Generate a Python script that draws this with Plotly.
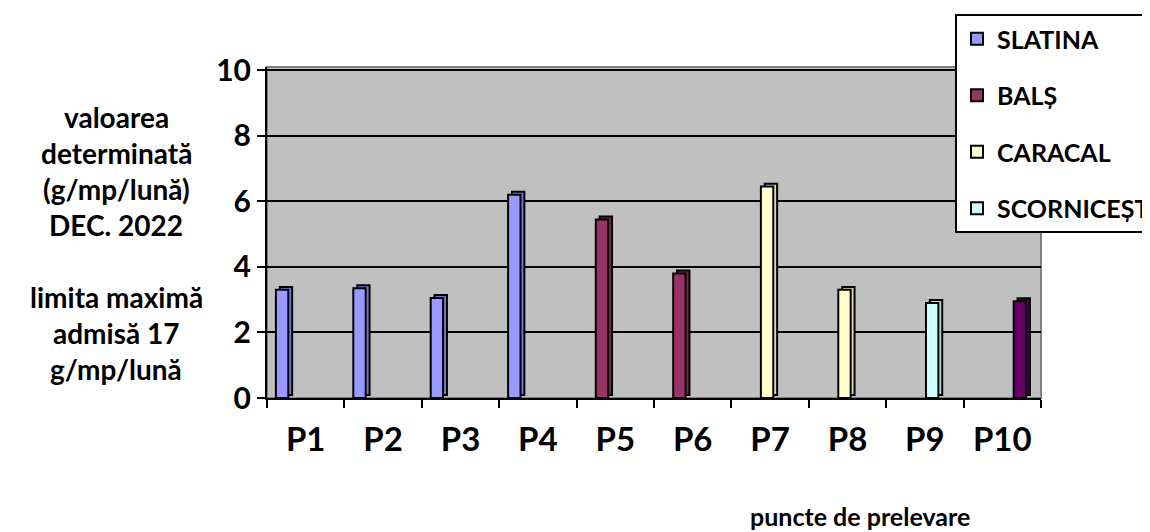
import plotly.graph_objects as go

# ---- data ----
points = ["P1", "P2", "P3", "P4", "P5", "P6", "P7", "P8", "P9", "P10"]
slatina = [3.3, 3.35, 3.05, 6.2, None, None, None, None, None, None]
bals = [None, None, None, None, 5.45, 3.8, None, None, None, None]
caracal = [None, None, None, None, None, None, 6.45, 3.3, None, None]
scornicesti = [None, None, None, None, None, None, None, None, 2.9, None]
serie5 = [None, None, None, None, None, None, None, None, None, 2.95]
y_ticks = [0, 2, 4, 6, 8, 10]

series = [
    ("SLATINA", slatina, "#9999FF", "#7777DD", True),
    ("BALȘ", bals, "#993366", "#7A2850", True),
    ("CARACAL", caracal, "#FFFFCC", "#DDDDAA", True),
    ("SCORNICEȘTI", scornicesti, "#CCFFFF", "#A8DDDD", True),
    ("serie 5", serie5, "#660066", "#4A004A", False),
]

FONT = "Lato"
bar_w = 0.16
slot = 0.133
first_off = -0.385
depth_x = 0.05
depth_y = 0.09

fig = go.Figure()

for i, (name, vals, col, dark, show) in enumerate(series):
    off = first_off + i * slot
    # depth (3D side/top) face behind
    fig.add_trace(go.Bar(
        x=points, y=vals, base=depth_y, offset=off + depth_x, width=bar_w,
        marker=dict(color=dark, line=dict(color="black", width=2)),
        showlegend=False, hoverinfo="skip",
    ))
    fig.add_trace(go.Bar(
        x=points, y=vals, offset=off, width=bar_w, name=name,
        legendgroup=name, showlegend=show,
        marker=dict(color=col, line=dict(color="black", width=2)),
    ))

# y-axis title lines (left text block), positions in page pixels
title_lines = ["valoarea", "determinată", "(g/mp/lună)", "DEC. 2022", "",
               "limita maximă", "admisă 17", "g/mp/lună"]
top_px, step_px = 117, 36
plot_left, plot_w = 267, 774
plot_bottom, plot_h = 398, 331
for k, t in enumerate(title_lines):
    if not t:
        continue
    ypx = top_px + k * step_px
    fig.add_annotation(
        text=t, xref="paper", yref="paper",
        x=(116 - plot_left) / plot_w, y=(plot_bottom - ypx) / plot_h,
        xanchor="center", yanchor="middle", showarrow=False,
        font=dict(family=FONT, size=28, color="black", weight="bold"),
    )

fig.add_annotation(
    text="puncte de prelevare", xref="paper", yref="paper",
    x=(860 - plot_left) / plot_w, y=(plot_bottom - 516) / plot_h,
    xanchor="center", yanchor="middle", showarrow=False,
    font=dict(family=FONT, size=25, color="black", weight="bold"),
)

# plot wall border (gray)
fig.add_shape(type="rect", xref="paper", yref="paper", x0=0, y0=0, x1=1, y1=1,
              line=dict(color="#808080", width=2), layer="below")

fig.update_layout(
    width=1150, height=532,
    barmode="overlay",
    paper_bgcolor="white",
    plot_bgcolor="#C0C0C0",
    margin=dict(l=259, r=117, t=59, b=142, autoexpand=False),
    font=dict(family=FONT, color="black"),
    legend=dict(
        x=(955 - plot_left) / plot_w, y=(plot_bottom - 14) / plot_h,
        xanchor="left", yanchor="top",
        bgcolor="white", bordercolor="black", borderwidth=2,
        font=dict(family=FONT, size=25, color="black", weight="bold"),
        traceorder="grouped", tracegroupgap=21,
    ),
    xaxis=dict(
        type="category", categoryorder="array", categoryarray=points,
        range=[-0.5, 9.5],
        showline=True, linecolor="black", linewidth=2,
        ticks="outside", tickson="boundaries", ticklen=8, tickwidth=2, tickcolor="black",
        showgrid=False,
        tickfont=dict(family=FONT, size=33, color="black", weight="bold"),
        ticklabelstandoff=11,
    ),
    yaxis=dict(
        range=[0, 10.1], tickvals=y_ticks,
        showline=True, linecolor="black", linewidth=2,
        ticks="outside", ticklen=8, tickwidth=2, tickcolor="black",
        showgrid=True, gridcolor="black", gridwidth=2,
        zeroline=False,
        tickfont=dict(family=FONT, size=30, color="black", weight="bold"),
    ),
)

fig.write_html("out.html")
